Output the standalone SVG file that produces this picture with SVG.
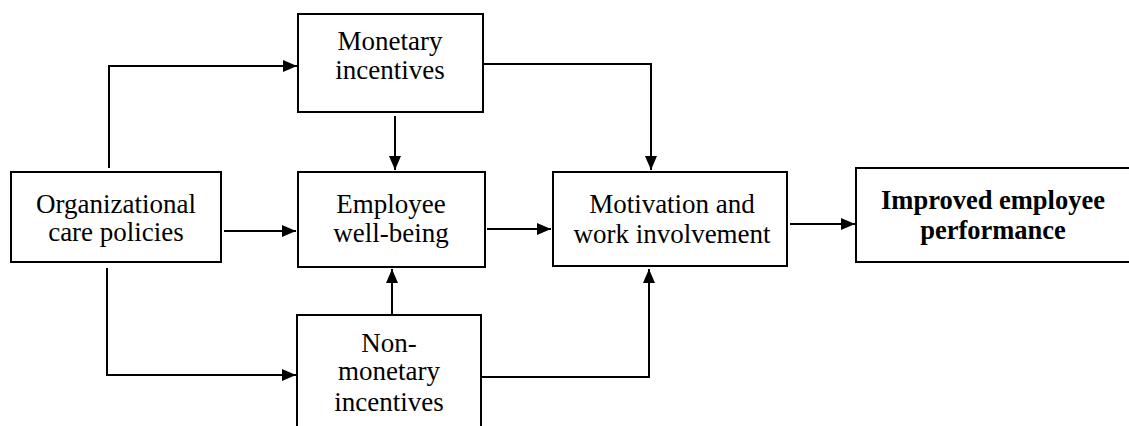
<svg xmlns="http://www.w3.org/2000/svg" width="1129" height="426" viewBox="0 0 1129 426">
<style>
.box{fill:#fff;stroke:#000;stroke-width:2}
.t{font-family:"Liberation Serif","Times New Roman",serif;font-size:27px;fill:#000;text-anchor:middle}
.b{font-weight:bold;font-size:26.5px}
.c{fill:none;stroke:#000;stroke-width:2}
</style>
<defs>
<marker id="ah" markerUnits="userSpaceOnUse" markerWidth="16" markerHeight="14" refX="14" refY="6" orient="auto">
<path d="M0,0 L14,6 L0,12 z" fill="#000"/>
</marker>
</defs>
<rect width="1129" height="426" fill="#fff"/>
<g id="connectors">
<path class="c" d="M109,168 V66 H297" marker-end="url(#ah)"/>
<path class="c" d="M224,231 H296" marker-end="url(#ah)"/>
<path class="c" d="M107,268 V375 H296" marker-end="url(#ah)"/>
<path class="c" d="M395,116 V170" marker-end="url(#ah)"/>
<path class="c" d="M483,64 H651 V170" marker-end="url(#ah)"/>
<path class="c" d="M392,315 V269" marker-end="url(#ah)"/>
<path class="c" d="M487,229 H551" marker-end="url(#ah)"/>
<path class="c" d="M481,377 H649 V269" marker-end="url(#ah)"/>
<path class="c" d="M790,224 H855" marker-end="url(#ah)"/>
</g>
<g id="monetary">
<rect class="box" x="298" y="14" width="185" height="98"/>
<text class="t" x="390" y="50">Monetary</text>
<text class="t" x="390" y="79">incentives</text>
</g>
<g id="organizational">
<rect class="box" x="11" y="172" width="210" height="90"/>
<text class="t" x="116" y="213">Organizational</text>
<text class="t" x="116" y="241">care policies</text>
</g>
<g id="wellbeing">
<rect class="box" x="298" y="172" width="187" height="95"/>
<text class="t" x="391" y="213">Employee</text>
<text class="t" x="391" y="242">well-being</text>
</g>
<g id="motivation">
<rect class="box" x="553" y="172" width="234" height="94"/>
<text class="t" x="672" y="213">Motivation and</text>
<text class="t" x="672" y="243">work involvement</text>
</g>
<g id="performance">
<rect class="box" x="856" y="168" width="280" height="94"/>
<text class="t b" x="993" y="209">Improved employee</text>
<text class="t b" x="993" y="239">performance</text>
</g>
<g id="nonmonetary">
<rect class="box" x="297" y="315" width="184" height="120"/>
<text class="t" x="389" y="352">Non-</text>
<text class="t" x="389" y="380">monetary</text>
<text class="t" x="389" y="411">incentives</text>
</g>
</svg>
